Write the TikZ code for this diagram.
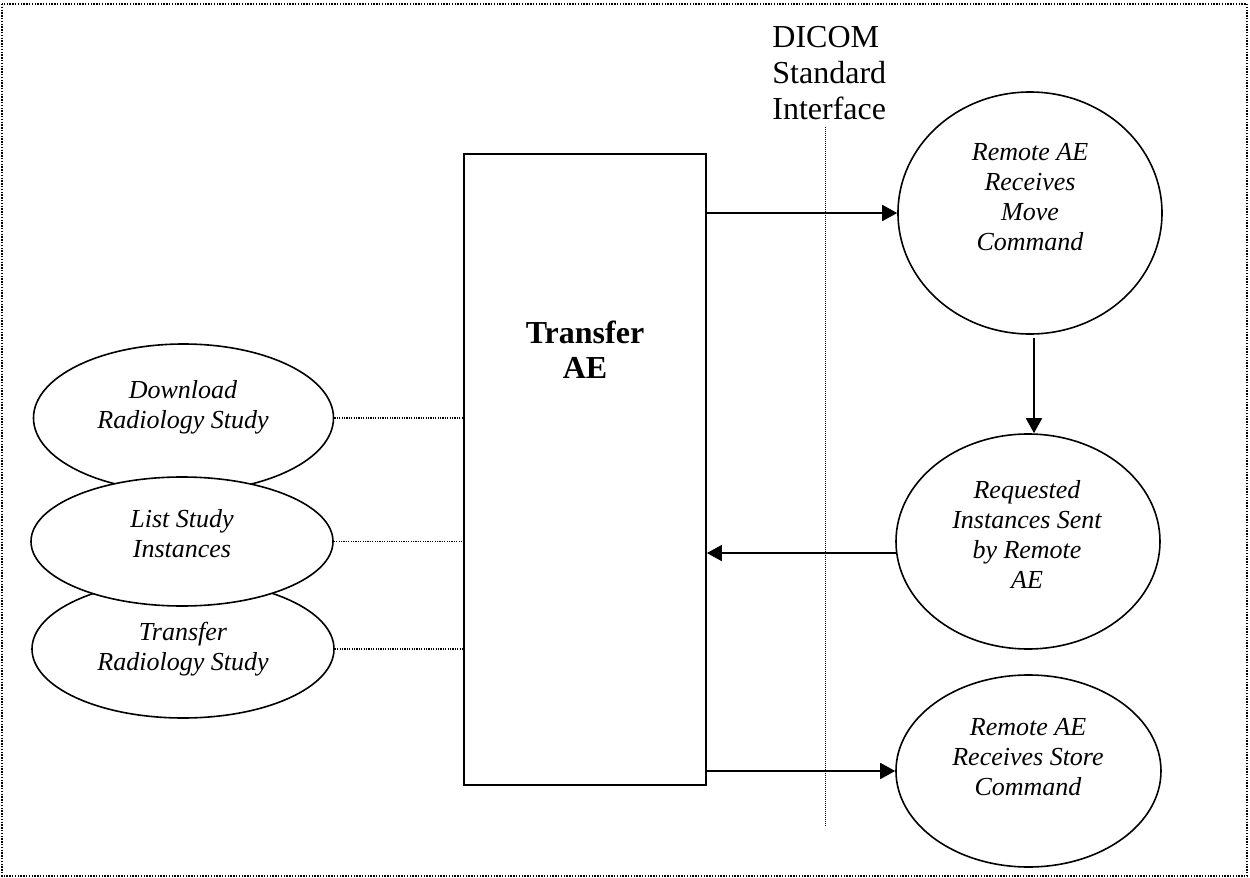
\documentclass[tikz,border=0pt]{standalone}
\usepackage{fontspec}
\setmainfont{Liberation Serif}
\usetikzlibrary{arrows.meta,shapes.geometric,positioning}
\tikzset{usecase/.style={
            draw,
            ellipse,
            fill=white,
            line width=0.8pt,
            inner sep=0pt
        },
        aebox/.style={
            draw,
            rectangle,
            line width=0.9pt,
            inner sep=0pt,
            minimum width=121pt,
            minimum height=315.5pt
        },
        casetext/.style={
            align=center,
            inner sep=0pt,
            font=\fontsize{13}{15}\selectfont\itshape
        },
        link/.style={
            line width=0.6pt,
            dash pattern=on 0.6pt off 0.6pt
        },
        flow/.style={
            line width=0.9pt,
            -{Triangle[length=7.5pt,width=8pt]}
        }
    }

\begin{document}
\begin{tikzpicture}[x=0.5pt,y=-0.5pt]
        \useasboundingbox (0,0) rectangle (1250,878);
        % outer frame
        \draw[line width=0.7pt,dash pattern=on 0.7pt off 0.7pt] (2,4) rectangle (1247,876);
        % interface line
        \coordinate (iftop) at (825,127);
        \coordinate (ifbot) at (825,827);
        \draw[line width=0.4pt,dash pattern=on 0.5pt off 0.5pt] (iftop) -- (ifbot);
        \node[anchor=north west,inner sep=0pt,align=left,font=\fontsize{16}{18}\selectfont] (dicom) at (772,26) {DICOM\\Standard\\Interface};

        % transfer AE
        \node[aebox] at (585,469.5) (transfer) {};
        \node[align=center,inner sep=0pt,font=\fontsize{16}{17.5}\selectfont\bfseries] at (585,350) (transfertext) {Transfer\\AE};

        % local use cases
        \node[usecase,minimum width=150pt,minimum height=74pt] at (183.5,418) (download) {};
        \node[casetext] at (183,407) (downloadtext) {Download\\Radiology Study};
        \node[usecase,minimum width=151pt,minimum height=69pt] at (183,649) (xfer) {};
        \node[casetext] at (183,649) (xfertext) {Transfer\\Radiology Study};
        \node[usecase,minimum width=151pt,minimum height=64.5pt] at (182,541.5) (list) {};
        \node[casetext] at (182,534) (listtext) {List Study\\Instances};

        \draw[link] (download.east) -- (download.east -| transfer.west);
        \draw[link] (list.east) -- (list.east -| transfer.west);
        \draw[link] (xfer.east) -- (xfer.east -| transfer.west);

        % remote activities
        \node[usecase,minimum width=132pt,minimum height=121pt] at (1030,213) (move) {};
        \node[casetext] at (1030,197) (movetext) {Remote AE\\Receives\\Move\\Command};
        \node[usecase,minimum width=132pt,minimum height=107.5pt] at (1028,541.5) (sent) {};
        \node[casetext] at (1027,534) (senttext) {Requested\\Instances Sent\\by Remote\\AE};
        \node[usecase,minimum width=132.5pt,minimum height=96pt] at (1028.5,771) (store) {};
        \node[casetext] at (1028,757) (storetext) {Remote AE\\Receives Store\\Command};

        \draw[flow] (move.west -| transfer.east) -- (move.west);
        \draw[flow] ([xshift=2pt,yshift=-1.5pt]move.south) -- ([xshift=2pt]move.south |- sent.north);
        \draw[flow] (sent.185) -- (sent.185 -| transfer.east);
        \draw[flow] (store.west -| transfer.east) -- (store.west);
    \end{tikzpicture}
\end{document}
